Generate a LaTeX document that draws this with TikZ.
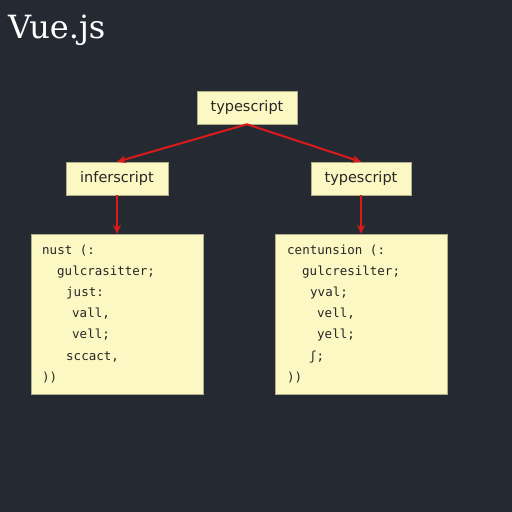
\documentclass[tikz,border=0pt]{standalone}
\usepackage{fontspec}
\usetikzlibrary{arrows.meta}
\newfontfamily\titlefont{DejaVu Serif}
\newfontfamily\boxfont{DejaVu Sans}
\newfontfamily\codefont{DejaVu Sans Mono}
\definecolor{bg}{HTML}{242932}
\definecolor{note}{HTML}{FCF8C4}
\definecolor{edge}{HTML}{DD1A1A}
\tikzset{
  labelbox/.style={draw=note!70!black, line width=0.5pt, fill=note, minimum width=100pt, minimum height=33pt, inner sep=0pt, font=\boxfont\fontsize{14.5}{16}\selectfont, text=black!85},
  codebox/.style={draw=note!70!black, line width=0.5pt, fill=note, minimum width=172pt, minimum height=160pt, inner sep=0pt},
  codeline/.style={anchor=base west, inner sep=0pt, font=\codefont\fontsize{12.5}{14}\selectfont, text=black!85},
  link/.style={draw=edge, line width=2pt, -{Stealth[length=9pt,width=8pt]}}
}
\begin{document}
\begin{tikzpicture}[x=1pt,y=-1pt]
\fill[bg] (0,0) rectangle (512,512);
\useasboundingbox (0,0) rectangle (512,512);
\node[anchor=base west, inner sep=0pt, text=white, font=\titlefont\fontsize{32}{36}\selectfont] (title) at (8,38) {Vue.js};
\node[labelbox] (top) at (247,107.5) {typescript};
\node[labelbox, minimum width=102pt] (midl) at (117,178.5) {inferscript};
\node[labelbox] (midr) at (361,178.5) {typescript};
\node[codebox] (codel) at (117,314) {};
\node[codebox] (coder) at (361,314) {};
\draw[link] (top.south) -- (midl.north);
\draw[link] (top.south) -- (midr.north);
\draw[link] (midl.south) -- (codel.north);
\draw[link] (midr.south) -- (coder.north);
% left code
\node[codeline] (l1) at (42,254) {nust (:};
\node[codeline] (l2) at (57,275) {gulcrasitter;};
\node[codeline] (l3) at (66,296) {just:};
\node[codeline] (l4) at (72,317) {vall,};
\node[codeline] (l5) at (72,338) {vell;};
\node[codeline] (l6) at (66,360) {sccact,};
\node[codeline] (l7) at (42,381) {))};
% right code
\node[codeline] (r1) at (287,254) {centunsion (:};
\node[codeline] (r2) at (302,275) {gulcresilter;};
\node[codeline] (r3) at (310,296) {yval;};
\node[codeline] (r4) at (317,317) {vell,};
\node[codeline] (r5) at (317,338) {yell;};
\node[codeline] (r6) at (309,360) {ʃ;};
\node[codeline] (r7) at (287,381) {))};
\end{tikzpicture}
\end{document}
